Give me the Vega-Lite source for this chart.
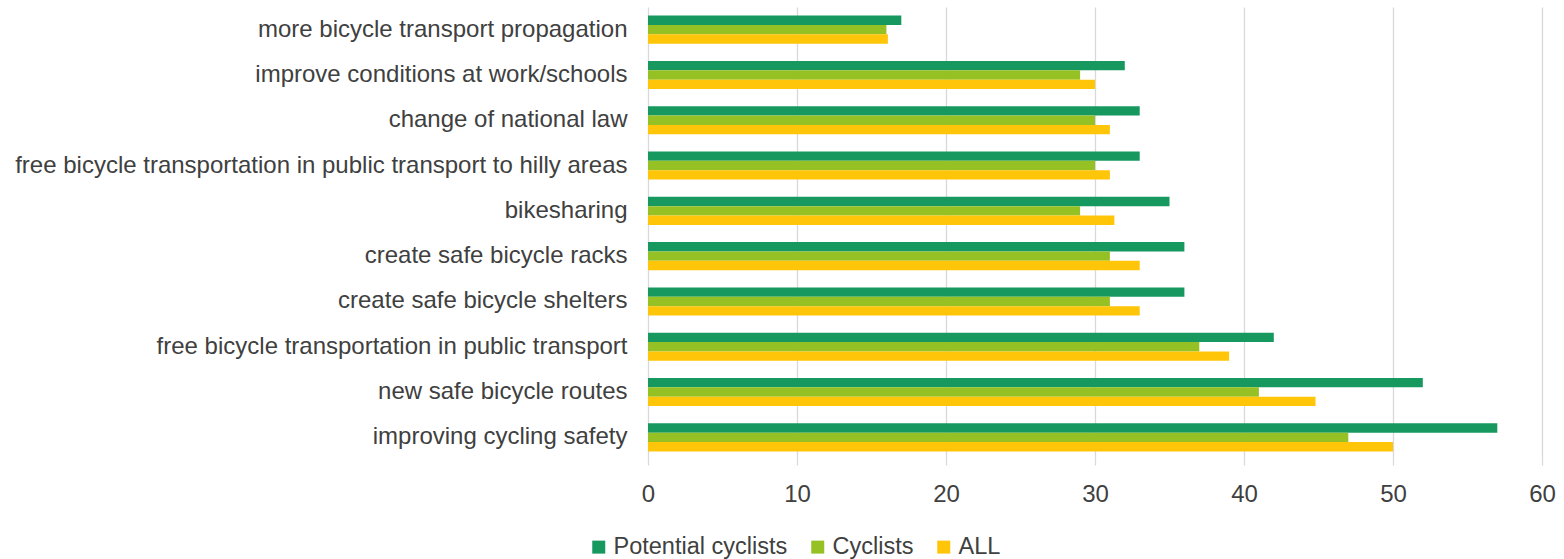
{
  "$schema": "https://vega.github.io/schema/vega-lite/v6.json",
  "width": 894,
  "height": 453,
  "autosize": {"type": "none"},
  "padding": {"left": 648, "top": 7, "right": 22, "bottom": 99},
  "background": "white",
  "config": {
    "view": {"stroke": null},
    "font": "Liberation Sans",
    "axis": {"labelFont": "Liberation Sans", "labelColor": "#404040", "labelFontSize": 24},
    "legend": {"labelFont": "Liberation Sans", "labelColor": "#404040", "labelFontSize": 23.5}
  },
  "data": {
    "values": [
      {"item": "more bicycle transport propagation", "series": "Potential cyclists", "value": 17},
      {"item": "more bicycle transport propagation", "series": "Cyclists", "value": 16},
      {"item": "more bicycle transport propagation", "series": "ALL", "value": 16.1},
      {"item": "improve conditions at work/schools", "series": "Potential cyclists", "value": 32},
      {"item": "improve conditions at work/schools", "series": "Cyclists", "value": 29},
      {"item": "improve conditions at work/schools", "series": "ALL", "value": 30},
      {"item": "change of national law", "series": "Potential cyclists", "value": 33},
      {"item": "change of national law", "series": "Cyclists", "value": 30},
      {"item": "change of national law", "series": "ALL", "value": 31},
      {"item": "free bicycle transportation in public transport to hilly areas", "series": "Potential cyclists", "value": 33},
      {"item": "free bicycle transportation in public transport to hilly areas", "series": "Cyclists", "value": 30},
      {"item": "free bicycle transportation in public transport to hilly areas", "series": "ALL", "value": 31},
      {"item": "bikesharing", "series": "Potential cyclists", "value": 35},
      {"item": "bikesharing", "series": "Cyclists", "value": 29},
      {"item": "bikesharing", "series": "ALL", "value": 31.3},
      {"item": "create safe bicycle racks", "series": "Potential cyclists", "value": 36},
      {"item": "create safe bicycle racks", "series": "Cyclists", "value": 31},
      {"item": "create safe bicycle racks", "series": "ALL", "value": 33},
      {"item": "create safe bicycle shelters", "series": "Potential cyclists", "value": 36},
      {"item": "create safe bicycle shelters", "series": "Cyclists", "value": 31},
      {"item": "create safe bicycle shelters", "series": "ALL", "value": 33},
      {"item": "free bicycle transportation in public transport", "series": "Potential cyclists", "value": 42},
      {"item": "free bicycle transportation in public transport", "series": "Cyclists", "value": 37},
      {"item": "free bicycle transportation in public transport", "series": "ALL", "value": 39},
      {"item": "new safe bicycle routes", "series": "Potential cyclists", "value": 52},
      {"item": "new safe bicycle routes", "series": "Cyclists", "value": 41},
      {"item": "new safe bicycle routes", "series": "ALL", "value": 44.8},
      {"item": "improving cycling safety", "series": "Potential cyclists", "value": 57},
      {"item": "improving cycling safety", "series": "Cyclists", "value": 47},
      {"item": "improving cycling safety", "series": "ALL", "value": 50}
    ]
  },
  "mark": {"type": "bar"},
  "encoding": {
    "y": {
      "field": "item",
      "type": "nominal",
      "sort": [
        "more bicycle transport propagation",
        "improve conditions at work/schools",
        "change of national law",
        "free bicycle transportation in public transport to hilly areas",
        "bikesharing",
        "create safe bicycle racks",
        "create safe bicycle shelters",
        "free bicycle transportation in public transport",
        "new safe bicycle routes",
        "improving cycling safety"
      ],
      "scale": {"paddingInner": 0.38, "paddingOuter": 0.19},
      "axis": {"title": null, "domain": false, "ticks": false, "labelPadding": 21, "labelLimit": 700}
    },
    "yOffset": {
      "field": "series",
      "type": "nominal",
      "sort": ["Potential cyclists", "Cyclists", "ALL"]
    },
    "x": {
      "field": "value",
      "type": "quantitative",
      "scale": {"domain": [0, 60], "nice": false},
      "axis": {
        "title": null,
        "values": [0, 10, 20, 30, 40, 50, 60],
        "domain": false,
        "grid": true,
        "gridColor": "#d9d9d9",
        "gridWidth": 1.3,
        "ticks": true,
        "tickColor": "#d9d9d9",
        "tickWidth": 1.3,
        "tickSize": 5,
        "labelPadding": 17,
        "labelFlush": false
      }
    },
    "color": {
      "field": "series",
      "type": "nominal",
      "scale": {
        "domain": ["Potential cyclists", "Cyclists", "ALL"],
        "range": ["#16985F", "#96C124", "#FFC508"]
      },
      "legend": {
        "title": null,
        "orient": "none",
        "direction": "horizontal",
        "legendX": -61,
        "legendY": 528,
        "symbolType": "square",
        "symbolSize": 169,
        "symbolStrokeWidth": 0,
        "columnPadding": 18,
        "labelOffset": 3,
        "labelLimit": 400
      }
    }
  }
}
